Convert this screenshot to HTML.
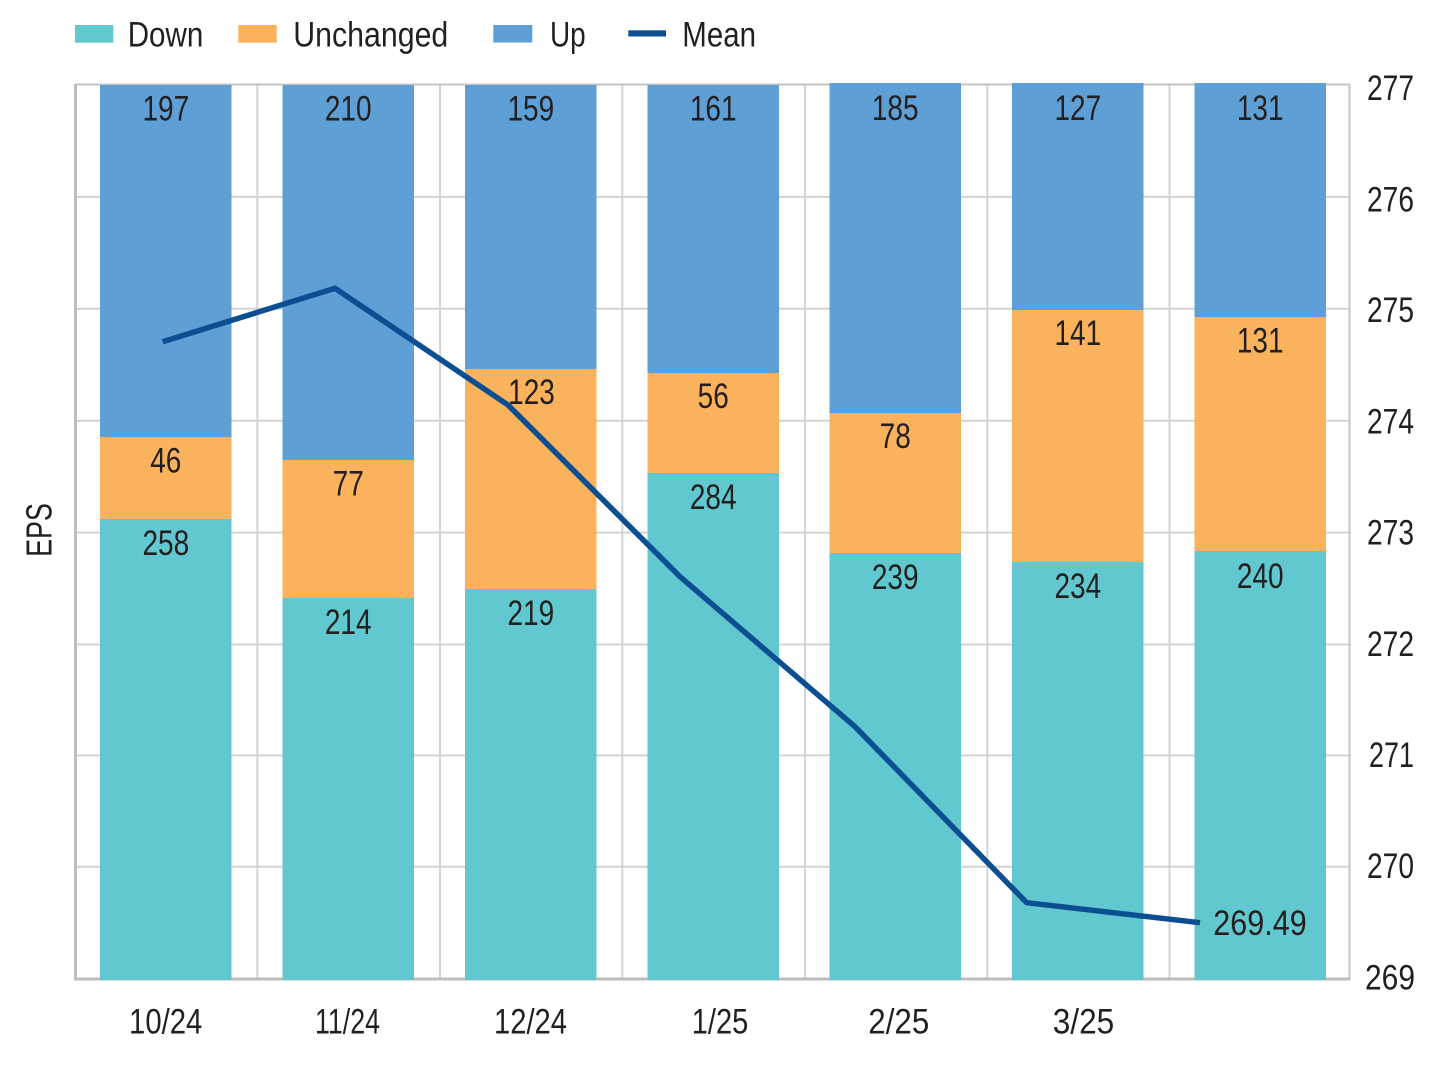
<!DOCTYPE html>
<html><head><meta charset="utf-8"><style>
html,body{margin:0;padding:0;background:#fff;}
svg{display:block;}
text{font-family:"Liberation Sans",sans-serif;fill:#231f20;}
</style></head><body>
<svg width="1440" height="1077" viewBox="0 0 1440 1077" xmlns="http://www.w3.org/2000/svg">
<rect width="1440" height="1077" fill="#fff"/>
<!-- gridlines -->
<g stroke="#d3d3d3" stroke-width="2">
<line x1="75" y1="196.9" x2="1349" y2="196.9"/>
<line x1="75" y1="308.8" x2="1349" y2="308.8"/>
<line x1="75" y1="420.7" x2="1349" y2="420.7"/>
<line x1="75" y1="532.6" x2="1349" y2="532.6"/>
<line x1="75" y1="644.5" x2="1349" y2="644.5"/>
<line x1="75" y1="755.4" x2="1349" y2="755.4"/>
<line x1="75" y1="866.8" x2="1349" y2="866.8"/>
<line x1="257.3" y1="84" x2="257.3" y2="979"/>
<line x1="440" y1="84" x2="440" y2="979"/>
<line x1="622.3" y1="84" x2="622.3" y2="979"/>
<line x1="805" y1="84" x2="805" y2="979"/>
<line x1="987.3" y1="84" x2="987.3" y2="979"/>
<line x1="1169.5" y1="84" x2="1169.5" y2="979"/>
</g>
<g stroke="#c4c4c4" stroke-width="2" fill="none">
<line x1="75" y1="84.5" x2="1349.5" y2="84.5"/>
<line x1="1349.5" y1="84" x2="1349.5" y2="980"/>
</g>
<g stroke="#bdbdbd" stroke-width="3" fill="none">
<line x1="75.5" y1="84" x2="75.5" y2="980"/>
<line x1="74" y1="979" x2="1350" y2="979"/>
</g>
<!-- bars -->
<g>
<rect x="100" y="85" width="131.5" height="352" fill="#5e9fd5"/>
<rect x="100" y="437" width="131.5" height="82" fill="#fbb25c"/>
<rect x="100" y="519" width="131.5" height="461" fill="#62c8cf"/>

<rect x="282.5" y="85" width="131.5" height="375" fill="#5e9fd5"/>
<rect x="282.5" y="460" width="131.5" height="138" fill="#fbb25c"/>
<rect x="282.5" y="598" width="131.5" height="382" fill="#62c8cf"/>

<rect x="465" y="85" width="131.5" height="284" fill="#5e9fd5"/>
<rect x="465" y="369" width="131.5" height="220" fill="#fbb25c"/>
<rect x="465" y="589" width="131.5" height="391" fill="#62c8cf"/>

<rect x="647.5" y="85" width="131.5" height="288" fill="#5e9fd5"/>
<rect x="647.5" y="373" width="131.5" height="100" fill="#fbb25c"/>
<rect x="647.5" y="473" width="131.5" height="507" fill="#62c8cf"/>

<rect x="829.5" y="83" width="131.5" height="330" fill="#5e9fd5"/>
<rect x="829.5" y="413" width="131.5" height="140" fill="#fbb25c"/>
<rect x="829.5" y="553" width="131.5" height="427" fill="#62c8cf"/>

<rect x="1012" y="83" width="131.5" height="227" fill="#5e9fd5"/>
<rect x="1012" y="310" width="131.5" height="252" fill="#fbb25c"/>
<rect x="1012" y="562" width="131.5" height="418" fill="#62c8cf"/>

<rect x="1194.5" y="83" width="131.5" height="234" fill="#5e9fd5"/>
<rect x="1194.5" y="317" width="131.5" height="234" fill="#fbb25c"/>
<rect x="1194.5" y="551" width="131.5" height="429" fill="#62c8cf"/>
</g>
<!-- data labels -->
<g font-size="35" text-anchor="middle">
<text transform="translate(165.8,120.5) scale(0.8,1)">197</text>
<text transform="translate(165.8,472.5) scale(0.8,1)">46</text>
<text transform="translate(165.8,555) scale(0.8,1)">258</text>

<text transform="translate(348.2,120.5) scale(0.8,1)">210</text>
<text transform="translate(348.2,495.5) scale(0.8,1)">77</text>
<text transform="translate(348.2,634) scale(0.8,1)">214</text>

<text transform="translate(530.8,120.5) scale(0.8,1)">159</text>
<text transform="translate(531.5,404) scale(0.8,1)">123</text>
<text transform="translate(530.8,625) scale(0.8,1)">219</text>

<text transform="translate(713.2,120.5) scale(0.8,1)">161</text>
<text transform="translate(713.2,408) scale(0.8,1)">56</text>
<text transform="translate(713.2,509) scale(0.8,1)">284</text>

<text transform="translate(895.2,120) scale(0.8,1)">185</text>
<text transform="translate(895.2,448) scale(0.8,1)">78</text>
<text transform="translate(895.2,589) scale(0.8,1)">239</text>

<text transform="translate(1077.8,120) scale(0.8,1)">127</text>
<text transform="translate(1077.8,345) scale(0.8,1)">141</text>
<text transform="translate(1077.8,598) scale(0.8,1)">234</text>

<text transform="translate(1260.2,120) scale(0.8,1)">131</text>
<text transform="translate(1260.2,352.5) scale(0.8,1)">131</text>
<text transform="translate(1260.2,588) scale(0.8,1)">240</text>
</g>
<!-- mean line -->
<polyline points="162.7,341.7 335,288.3 508,405 680,576.7 855,726.7 1026.7,902.7 1200,922.7" fill="none" stroke="#0b4f92" stroke-width="5.5" stroke-linejoin="round" stroke-linecap="butt"/>
<text x="1213.3" y="935" font-size="35" textLength="93.4" lengthAdjust="spacingAndGlyphs">269.49</text>
<!-- right axis -->
<g font-size="35" text-anchor="end">
<text x="1414" y="100" textLength="47" lengthAdjust="spacingAndGlyphs">277</text>
<text x="1414" y="211.5" textLength="47" lengthAdjust="spacingAndGlyphs">276</text>
<text x="1414" y="322" textLength="47" lengthAdjust="spacingAndGlyphs">275</text>
<text x="1414" y="433.5" textLength="47" lengthAdjust="spacingAndGlyphs">274</text>
<text x="1414" y="544.6" textLength="47" lengthAdjust="spacingAndGlyphs">273</text>
<text x="1414" y="655.8" textLength="47" lengthAdjust="spacingAndGlyphs">272</text>
<text x="1414" y="766.9" textLength="45" lengthAdjust="spacingAndGlyphs">271</text>
<text x="1414" y="878" textLength="47" lengthAdjust="spacingAndGlyphs">270</text>
<text x="1415" y="989.3" textLength="50" lengthAdjust="spacingAndGlyphs">269</text>
</g>
<!-- x axis labels -->
<g font-size="35" text-anchor="middle">
<text x="165.7" y="1033.5" textLength="73.3" lengthAdjust="spacingAndGlyphs">10/24</text>
<text x="347.5" y="1033.5" textLength="65" lengthAdjust="spacingAndGlyphs">11/24</text>
<text x="530.5" y="1033.5" textLength="73" lengthAdjust="spacingAndGlyphs">12/24</text>
<text x="720" y="1033.5" textLength="56.6" lengthAdjust="spacingAndGlyphs">1/25</text>
<text x="898.8" y="1033.5" textLength="61" lengthAdjust="spacingAndGlyphs">2/25</text>
<text x="1083.5" y="1033.5" textLength="61.6" lengthAdjust="spacingAndGlyphs">3/25</text>
</g>
<!-- y axis title -->
<text transform="translate(51.7,530) rotate(-90)" font-size="36" text-anchor="middle" textLength="53.7" lengthAdjust="spacingAndGlyphs">EPS</text>
<!-- legend -->
<rect x="75" y="25" width="38.3" height="17.7" fill="#62c8cf"/>
<text x="127.7" y="46.7" font-size="35" textLength="75.6" lengthAdjust="spacingAndGlyphs">Down</text>
<rect x="238.3" y="25" width="38.4" height="17.7" fill="#fbb25c"/>
<text x="293.3" y="46.7" font-size="35" textLength="155" lengthAdjust="spacingAndGlyphs">Unchanged</text>
<rect x="493.3" y="25" width="39" height="17.5" fill="#5e9fd5"/>
<text x="550" y="46.7" font-size="35" textLength="35.7" lengthAdjust="spacingAndGlyphs">Up</text>
<rect x="628.3" y="30.3" width="37.7" height="6.2" fill="#0b4f92"/>
<text x="682.3" y="46.7" font-size="35" textLength="73.7" lengthAdjust="spacingAndGlyphs">Mean</text>
</svg>
</body></html>
